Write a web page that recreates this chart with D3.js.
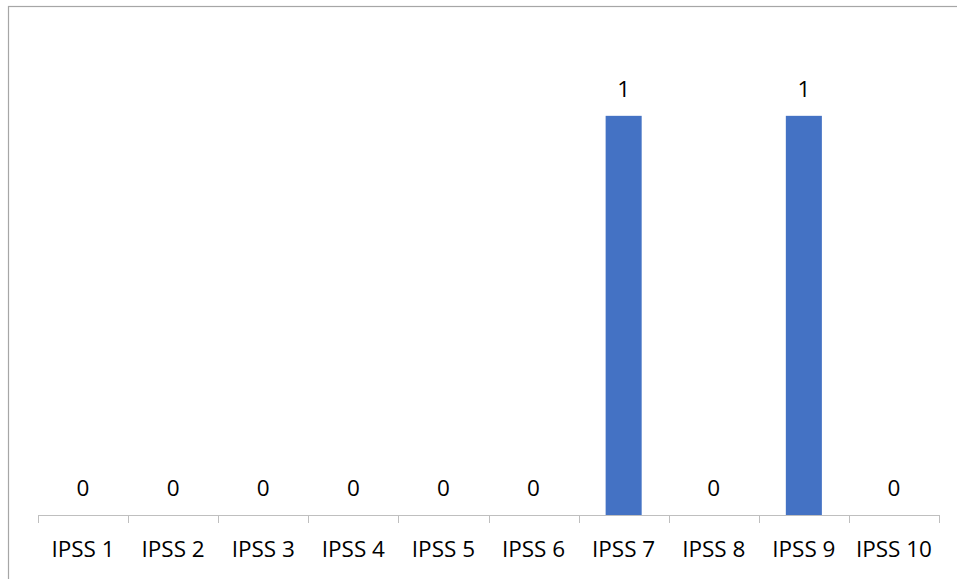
<!DOCTYPE html>
<html>
<head>
<meta charset="utf-8">
<script src="https://cdn.jsdelivr.net/npm/d3@7"></script>
<style>
  html, body { margin: 0; padding: 0; background: #fff; }
  svg { display: block; }
  text { font-family: "Open Sans", sans-serif; fill: #000; }
</style>
</head>
<body>
<div id="chart"></div>
<script>
// IPSS score counts
const categories = ["IPSS 1", "IPSS 2", "IPSS 3", "IPSS 4", "IPSS 5", "IPSS 6", "IPSS 7", "IPSS 8", "IPSS 9", "IPSS 10"];
const counts = [0, 0, 0, 0, 0, 0, 1, 0, 1, 0];
const yDomain = [0, 1.2];

const W = 957, H = 579;
const margin = { left: 38, right: 18, top: 36, bottom: 64 };

const svg = d3.select("#chart").append("svg")
  .attr("width", W).attr("height", H);

// chart frame
svg.append("rect")
  .attr("x", 8.5).attr("y", 6.5)
  .attr("width", W).attr("height", H)
  .attr("fill", "none").attr("stroke", "#a6a6a6").attr("stroke-width", 1.2);

const x = d3.scaleBand()
  .domain(categories)
  .range([margin.left, W - margin.right])
  .paddingInner(0.6).paddingOuter(0.3);

const y = d3.scaleLinear()
  .domain(yDomain)
  .range([H - margin.bottom, margin.top]);

const data = categories.map((c, i) => ({ c, v: counts[i] }));

// bars
svg.append("g").selectAll("rect")
  .data(data.filter(d => d.v > 0))
  .join("rect")
  .attr("x", d => x(d.c))
  .attr("y", d => y(d.v))
  .attr("width", x.bandwidth())
  .attr("height", d => y(0) - y(d.v))
  .attr("fill", "#4472C4");

// category axis with ticks on the boundaries between categories
const y0 = y(0);
const step = x.step();
const left = margin.left, right = W - margin.right;
const axisG = svg.append("g");
axisG.append("line")
  .attr("x1", left).attr("x2", right)
  .attr("y1", y0 + 0.5).attr("y2", y0 + 0.5)
  .attr("stroke", "#bfbfbf").attr("stroke-width", 1);
axisG.selectAll("line.tick")
  .data(d3.range(categories.length + 1))
  .join("line")
  .attr("class", "tick")
  .attr("x1", i => Math.round(left + i * step) + 0.5)
  .attr("x2", i => Math.round(left + i * step) + 0.5)
  .attr("y1", y0).attr("y2", y0 + 8)
  .attr("stroke", "#bfbfbf").attr("stroke-width", 1);

axisG.selectAll("text")
  .data(categories)
  .join("text")
  .attr("x", d => x(d) + x.bandwidth() / 2)
  .attr("y", y0 + 42)
  .attr("text-anchor", "middle")
  .attr("font-size", 22.5)
  .text(d => d);

// value labels
svg.append("g").selectAll("text")
  .data(data)
  .join("text")
  .attr("x", d => x(d.c) + x.bandwidth() / 2)
  .attr("y", d => y(d.v) - 19)
  .attr("text-anchor", "middle")
  .attr("font-size", 22.5)
  .text(d => d.v);
</script>
</body>
</html>
